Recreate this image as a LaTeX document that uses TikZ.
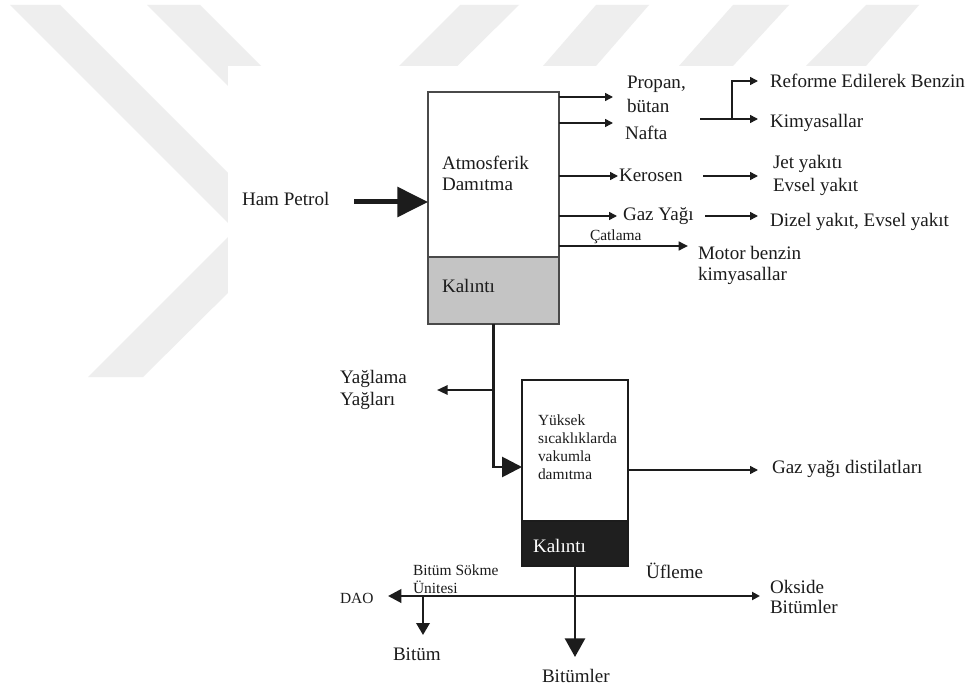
\documentclass[tikz,border=0pt]{standalone}
\usepackage{fontspec}
\setmainfont{Liberation Serif}
\usetikzlibrary{arrows.meta}
\definecolor{wm}{HTML}{EEEEEE}
\definecolor{ink}{HTML}{1C1C1C}
\definecolor{boxline}{HTML}{4A4A4A}
\definecolor{kgray}{HTML}{C4C4C4}
\definecolor{kdark}{HTML}{1F1F1F}
\begin{document}
\begin{tikzpicture}[x=0.75pt,y=-0.75pt,
  lbl/.style={anchor=base west, inner sep=0pt, outer sep=0pt, text=ink, font=\fontsize{14.3}{16}\selectfont},
  sml/.style={lbl, font=\fontsize{11.6}{13}\selectfont},
  boxw/.style={draw=boxline, line width=1.1pt, fill=white, inner sep=0pt, outer sep=0pt, anchor=north west, minimum width=98.25pt},
  boxv/.style={draw=ink, line width=1.1pt, inner sep=0pt, outer sep=0pt, anchor=north west, minimum width=79.5pt},
  flow/.style={draw=ink, line width=1.1pt, -{Triangle[length=6pt,width=6pt]}},
  plain/.style={draw=ink, line width=1.1pt},
  heavy/.style={draw=ink, line width=2.1pt}]
\useasboundingbox (0,0) rectangle (972,688);
\fill[white] (0,0) rectangle (972,688);
% watermark
\fill[wm] (10,5) -- (60,5) -- (300,245) -- (250,245) -- cycle;
\fill[wm] (147,5) -- (200,5) -- (300,105) -- (247,105) -- cycle;
\fill[wm] (460,5) -- (519,5) -- (143,377) -- (88,377) -- cycle;
\fill[wm] (596,5) -- (649,5) -- (596,66) -- (543,66) -- cycle;
\fill[wm] (733,5) -- (789,5) -- (733,66) -- (679,66) -- cycle;
\fill[wm] (866,5) -- (919,5) -- (866,66) -- (806,66) -- cycle;
\fill[white] (228,66) rectangle (972,688);

% boxes
\node[boxw, minimum height=123.75pt] (atm) at (428,92) {};
\node[boxw, fill=kgray, minimum height=50.25pt] (res1) at (428,257) {};
\node[boxv, fill=white, minimum height=105.75pt] (vac) at (522,380) {};
\node[boxv, fill=kdark, minimum height=33.75pt] (res2) at (522,521) {};

% texts
\node[lbl] (atmA) at (442,170) {Atmosferik};
\node[lbl] (atmB) at (442,191) {Damıtma};
\node[lbl] (ham) at (242,206) {Ham Petrol};
\node[lbl] (kal1) at (442,292) {Kalıntı};
\node[lbl] (propan) at (627,89) {Propan,};
\node[lbl] (butan) at (627,113) {bütan};
\node[lbl] (nafta) at (625,140) {Nafta};
\node[lbl] (kerosen) at (619,182) {Kerosen};
\node[lbl] (gazyagi) at (623,221) {Gaz Yağı};
\node[sml] (catlama) at (590,241) {Çatlama};
\node[lbl] (motor) at (698,260) {Motor benzin};
\node[lbl] (kimya1) at (698,281) {kimyasallar};
\node[lbl] (reforme) at (770,88) {Reforme Edilerek Benzin};
\node[lbl] (kimya2) at (770,128) {Kimyasallar};
\node[lbl] (jet) at (773,169) {Jet yakıtı};
\node[lbl] (evsel) at (773,192) {Evsel yakıt};
\node[lbl] (dizel) at (770,227) {Dizel yakıt, Evsel yakıt};
\node[lbl] (yaglamaA) at (340,383) {Yağlama};
\node[lbl] (yaglamaB) at (340,405) {Yağları};
\node[sml] (vacA) at (538,425) {Yüksek};
\node[sml] (vacB) at (538,443) {sıcaklıklarda};
\node[sml] (vacC) at (538,461) {vakumla};
\node[sml] (vacD) at (538,479) {damıtma};
\node[lbl, text=white] (kal2) at (533,552) {Kalıntı};
\node[lbl] (gazdist) at (772,473) {Gaz yağı distilatları};
\node[sml] (sokmeA) at (413,575) {Bitüm Sökme};
\node[sml] (sokmeB) at (413,593) {Ünitesi};
\node[sml] (dao) at (340,603) {DAO};
\node[lbl] (bitum) at (393,660) {Bitüm};
\node[lbl] (bitumler) at (542,682) {Bitümler};
\node[lbl] (ufleme) at (646,578) {Üfleme};
\node[lbl] (oksA) at (770,593) {Okside};
\node[lbl] (oksB) at (770,613) {Bitümler};

% connector end points
\coordinate (tPropan) at (613,97);
\coordinate (tNafta) at (613,123);
\coordinate (tKero) at (618,176);
\coordinate (tGaz) at (617,216);
\coordinate (tMotor) at (688,246);
\coordinate (brS) at (700,119);
\coordinate (brJ) at (732,119);
\coordinate (tKim) at (758,119);
\coordinate (tRef) at (758,81);
\coordinate (keroS) at (703,176);
\coordinate (tJet) at (758,176);
\coordinate (gazS) at (705,216);
\coordinate (tDizel) at (758,216);
\coordinate (hamS) at (354,202);
\coordinate (vTip) at (522,467);
\coordinate (yJ) at (493,390);
\coordinate (yTip) at (437,390);
\coordinate (gdTip) at (758,470);
\coordinate (bitTip) at (575,657);
\coordinate (hJ) at (575,596);
\coordinate (daoTip) at (388,596);
\coordinate (oksTip) at (760,596);
\coordinate (bJ) at (423,596);
\coordinate (bTip) at (423,635);

% connectors
\draw[flow] (atm.east |- tPropan) -- (tPropan);
\draw[flow] (atm.east |- tNafta) -- (tNafta);
\draw[flow] (atm.east |- tKero) -- (tKero);
\draw[flow] (atm.east |- tGaz) -- (tGaz);
\draw[flow, line width=1.8pt, -{Triangle[length=7pt,width=6.5pt]}] (atm.east |- tMotor) -- (tMotor);
\draw[flow] (brS) -- (tKim);
\draw[flow] (brJ) |- (tRef);
\draw[flow] (keroS) -- (tJet);
\draw[flow] (gazS) -- (tDizel);
\draw[draw=ink, line width=3.75pt, -{Triangle[length=23pt,width=22pt]}] (hamS) -- (hamS -| atm.west);
\draw[heavy, -{Triangle[length=15pt,width=15pt]}] (res1.south) |- (vTip);
\draw[plain, line width=1.6pt, -{Triangle[length=8pt,width=7pt]}] (yJ) -- (yTip);
\draw[flow] (vac.east |- gdTip) -- (gdTip);
\draw[heavy, -{Triangle[length=14pt,width=15pt]}] (res2.south) -- (bitTip);
\draw[heavy, -{Triangle[length=10pt,width=10pt]}] (hJ) -- (daoTip);
\draw[flow, line width=1.6pt] (hJ) -- (oksTip);
\draw[heavy, line width=1.8pt, -{Triangle[length=9pt,width=10pt]}] (bJ) -- (bTip);
\end{tikzpicture}
\end{document}
